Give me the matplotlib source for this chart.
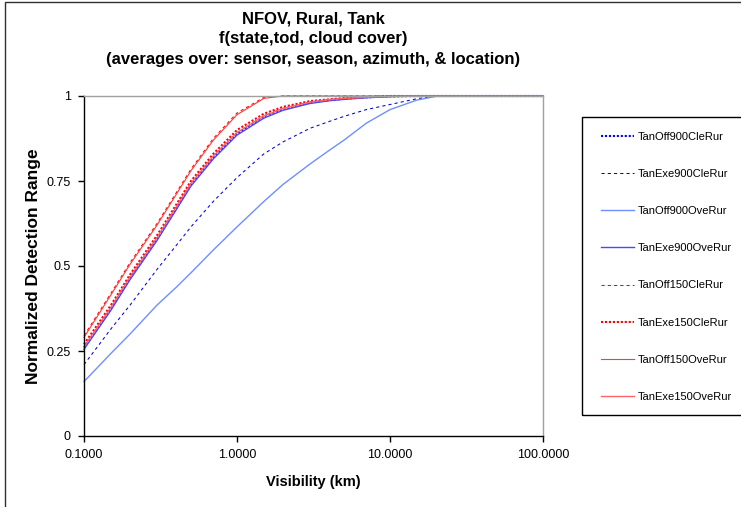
import matplotlib.pyplot as plt
from matplotlib.patches import Rectangle
from matplotlib.ticker import FixedLocator, NullLocator

plt.rcParams['font.family'] = ['Liberation Sans', 'DejaVu Sans']

# visibility (km) and normalized detection range for each case
visibility = [0.1, 0.15, 0.2, 0.3, 0.4, 0.5, 0.7, 1, 1.5, 2, 3, 4, 5, 7, 10,
              15, 20, 30, 50, 70, 100]

tan_off900_cle = [0.26, 0.375, 0.465, 0.58, 0.67, 0.74, 0.82, 0.89, 0.94, 0.962, 0.981,
                  0.988, 0.992, 0.996, 0.999, 1, 1, 1, 1, 1, 1]
tan_exe900_cle = [0.21, 0.315, 0.385, 0.49, 0.56, 0.615, 0.69, 0.76, 0.83, 0.865, 0.905,
                  0.925, 0.94, 0.96, 0.975, 0.992, 1, 1, 1, 1, 1]
tan_off900_ove = [0.16, 0.243, 0.30, 0.385, 0.437, 0.48, 0.547, 0.615, 0.69, 0.74, 0.80,
                  0.84, 0.87, 0.92, 0.96, 0.988, 0.999, 1, 1, 1, 1]
tan_exe900_ove = [0.255, 0.37, 0.46, 0.575, 0.665, 0.735, 0.815, 0.885, 0.935, 0.958, 0.978,
                  0.986, 0.99, 0.995, 0.998, 1, 1, 1, 1, 1, 1]
tan_off150_cle = [0.295, 0.42, 0.51, 0.625, 0.715, 0.785, 0.875, 0.95, 0.996, 1, 1,
                  1, 1, 1, 1, 1, 1, 1, 1, 1, 1]
tan_exe150_cle = [0.27, 0.385, 0.475, 0.59, 0.68, 0.75, 0.83, 0.90, 0.948, 0.968, 0.985,
                  0.99, 0.994, 0.997, 1, 1, 1, 1, 1, 1, 1]
tan_off150_ove = [0.29, 0.415, 0.505, 0.62, 0.71, 0.78, 0.87, 0.945, 0.993, 1, 1,
                  1, 1, 1, 1, 1, 1, 1, 1, 1, 1]
tan_exe150_ove = [0.262, 0.378, 0.468, 0.583, 0.673, 0.743, 0.823, 0.892, 0.941, 0.963, 0.982,
                  0.989, 0.993, 0.996, 0.999, 1, 1, 1, 1, 1, 1]

series = [
    ('TanOff900CleRur', tan_off900_cle, '#0000FF', 1.5, (0, (1, 0.9))),
    ('TanExe900CleRur', tan_exe900_cle, '#0000DD', 0.75, (0, (3, 3))),
    ('TanOff900OveRur', tan_off900_ove, '#6F8FFF', 1.0, '-'),
    ('TanExe900OveRur', tan_exe900_ove, '#4848FF', 1.0, '-'),
    ('TanOff150CleRur', tan_off150_cle, '#FF0000', 0.75, (0, (3, 3))),
    ('TanExe150CleRur', tan_exe150_cle, '#FF0000', 1.5, (0, (1, 0.9))),
    ('TanOff150OveRur', tan_off150_ove, '#FF3A3A', 0.8, '-'),
    ('TanExe150OveRur', tan_exe150_ove, '#FF6464', 1.0, '-'),
]

W, H = 741, 507
fig = plt.figure(figsize=(W / 100, H / 100), dpi=100)
ax = fig.add_axes([84 / W, 1 - 436 / H, (543 - 84) / W, (436 - 96) / H])

for name, vals, color, lw, ls in series:
    ax.plot(visibility, vals, color=color, lw=lw, linestyle=ls, label=name, clip_on=False)

ax.set_xscale('log')
ax.set_xlim(0.1, 100)
ax.set_ylim(0, 1)
ax.xaxis.set_major_locator(FixedLocator([0.1, 1, 10, 100]))
ax.xaxis.set_minor_locator(NullLocator())
ax.set_xticklabels(['0.1000', '1.0000', '10.0000', '100.0000'])
ax.set_yticks([0, 0.25, 0.5, 0.75, 1])
ax.set_yticklabels(['0', '0.25', '0.5', '0.75', '1'])
ax.tick_params(axis='both', direction='out', length=4, width=1, labelsize=9, pad=5.5, colors='black')

for side in ('left', 'bottom'):
    ax.spines[side].set_color('black')
    ax.spines[side].set_linewidth(1)
for side in ('top', 'right'):
    ax.spines[side].set_color('#A0A0A0')
    ax.spines[side].set_linewidth(1)

fig.text(313 / W, 1 - 11 / H,
         'NFOV, Rural, Tank\nf(state,tod, cloud cover)\n(averages over: sensor, season, azimuth, & location)',
         ha='center', va='top', fontsize=12, fontweight='bold', linespacing=1.45)
ax.set_xlabel('Visibility (km)', fontsize=10.5, fontweight='bold', labelpad=10)
ax.set_ylabel('Normalized Detection Range', fontsize=12.5, fontweight='bold', labelpad=4)

# legend box and entries
fig.patches.append(Rectangle((582 / W, 1 - 415 / H), 0.5, (415 - 117) / H,
                             transform=fig.transFigure, fill=False, edgecolor='black', lw=1))
ax.legend(loc='upper left', bbox_to_anchor=(601 / W, 1 - 132 / H), bbox_transform=fig.transFigure,
          frameon=False, borderpad=0, borderaxespad=0, fontsize=8, handlelength=3.0,
          handletextpad=0.3, labelspacing=2.44)

# outer chart border
fig.patches.append(Rectangle((5 / W, -0.5), 2, 1.5 - 2 / H, transform=fig.transFigure,
                             fill=False, edgecolor='#303030', lw=1))

fig.savefig('out.png', dpi=100)
